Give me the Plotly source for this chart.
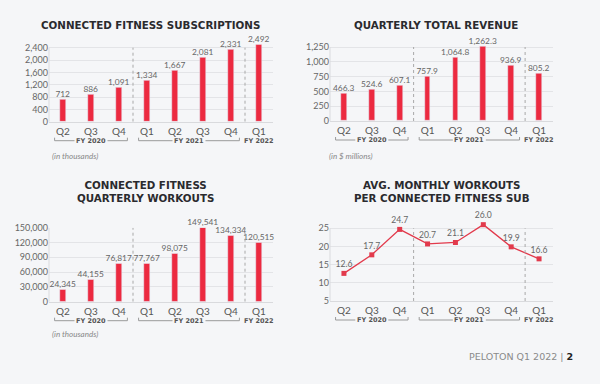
import plotly.graph_objects as go

# ---------------- data ----------------
quarters = ["Q2", "Q3", "Q4", "Q1", "Q2", "Q3", "Q4", "Q1"]
fiscal_years = ["FY 2020", "FY 2020", "FY 2020", "FY 2021", "FY 2021", "FY 2021", "FY 2021", "FY 2022"]
subscriptions = [712, 886, 1091, 1334, 1667, 2081, 2331, 2492]
revenue = [466.3, 524.6, 607.1, 757.9, 1064.8, 1262.3, 936.9, 805.2]
workouts = [24345, 44155, 76817, 77767, 98075, 149541, 134334, 120515]
avg_workouts = [12.6, 17.7, 24.7, 20.7, 21.1, 26.0, 19.9, 16.6]

sub_ticks = [0, 400, 800, 1200, 1600, 2000, 2400]
rev_ticks = [0, 250, 500, 750, 1000, 1250]
wo_ticks = [0, 30000, 60000, 90000, 120000, 150000]
avg_ticks = [5, 10, 15, 20, 25]

titles = ["CONNECTED FITNESS SUBSCRIPTIONS", "QUARTERLY TOTAL REVENUE",
          "CONNECTED FITNESS<br>QUARTERLY WORKOUTS",
          "AVG. MONTHLY WORKOUTS<br>PER CONNECTED FITNESS SUB"]
notes = ["(in thousands)", "(in $ millions)", "(in thousands)", None]
footer = "PELOTON Q1 2022 | <b><span style='color:#222'>2</span></b>"

# ---------------- style / layout ----------------
W, H = 600, 384
BG = "#f5f6f8"
RED = "#ec2a40"
LINE_RED = "#e23a4c"
GRID = "#e3e4e7"
TXT = "#666666"
TICKFONT = "Lato"
TITLEFONT = "DejaVu Sans"

# pixel boxes of the four plot areas: left, right, pixel of top tick, pixel of bottom
panels = [
    (49, 273, 47.7, 121.7),
    (330, 553, 47.0, 121.0),
    (49, 273, 227.7, 301.7),
    (330, 553, 228.3, 301.0),
]
title_pos = [(150, 24.5), (436, 24.5), (145, 191.5), (442, 191.5)]
note_pos = [(50, 156), (327, 156), (50, 334), None]
ranges = [[0, 2500], [0, 1275], [0, 150000], [5, 26.5]]


def px(x):
    return x / W


def py(y):
    return 1 - y / H


x_idx = list(range(len(quarters)))
fig = go.Figure()

series = [subscriptions, revenue, workouts, avg_workouts]
texts = [
    [f"{v:,}" for v in subscriptions],
    [f"{v:,.1f}" for v in revenue],
    [f"{v:,}" for v in workouts],
    [f"{v:.1f}" for v in avg_workouts],
]
tickvals = [sub_ticks, rev_ticks, wo_ticks, avg_ticks]

for i in range(4):
    n = i + 1
    xa = "x" if n == 1 else f"x{n}"
    ya = "y" if n == 1 else f"y{n}"
    if i < 3:
        fig.add_trace(go.Bar(
            x=x_idx, y=series[i], width=0.21, marker_color=RED,
            text=texts[i], textposition="outside", cliponaxis=False,
            constraintext="none",
            textfont=dict(family=TICKFONT, size=8.4, color=TXT),
            xaxis=xa, yaxis=ya, hoverinfo="skip"))
    else:
        fig.add_trace(go.Scatter(
            x=x_idx, y=series[i], mode="lines+markers+text",
            line=dict(color=LINE_RED, width=1.3),
            marker=dict(symbol="square", size=5, color=LINE_RED),
            text=texts[i], textposition="top center", cliponaxis=False,
            textfont=dict(family=TICKFONT, size=8.6, color=TXT),
            xaxis=xa, yaxis=ya, hoverinfo="skip"))

layout = dict(
    width=W, height=H, margin=dict(l=0, r=0, t=0, b=0),
    paper_bgcolor=BG, plot_bgcolor=BG, showlegend=False,
    bargap=0.0,
)
annotations = []
shapes = []

for i in range(4):
    n = i + 1
    l, r, t, b = panels[i]
    lo, hi = ranges[i]
    top_tick = tickvals[i][-1]
    ppv = (b - t) / (top_tick - lo)
    top_px = t - (hi - top_tick) * ppv
    xkey = "xaxis" if n == 1 else f"xaxis{n}"
    ykey = "yaxis" if n == 1 else f"yaxis{n}"
    xa = "x" if n == 1 else f"x{n}"
    ya = "y" if n == 1 else f"y{n}"
    layout[xkey] = dict(
        domain=[px(l), px(r)], anchor=ya, range=[-0.5, len(quarters) - 0.5],
        tickvals=x_idx, ticktext=quarters, showgrid=False, zeroline=False,
        showline=True, linecolor="#d9dadd", linewidth=1,
        tickfont=dict(family=TICKFONT, size=10, color="#555"), ticks="",
        automargin=False, fixedrange=True)
    layout[ykey] = dict(
        domain=[py(b), py(top_px)], anchor=xa, range=ranges[i],
        tickvals=tickvals[i], tickformat=",", showgrid=True, gridcolor=GRID,
        gridwidth=1, zeroline=False, showline=False,
        tickfont=dict(family=TICKFONT, size=9, color=TXT),
        ticks="", automargin=False, fixedrange=True)
    # left axis line up to the top tick
    shapes.append(dict(type="line", xref=f"{xa} domain", yref=ya, x0=0, x1=0,
                       y0=lo, y1=top_tick, line=dict(color="#d9dadd", width=1)))

    # title
    tx, ty = title_pos[i]
    annotations.append(dict(
        text=f"<b>{titles[i]}</b>", x=px(tx), y=py(ty), xref="paper", yref="paper",
        xanchor="center", yanchor="middle", showarrow=False,
        font=dict(family=TITLEFONT, size=10.3, color="#2a2a2e")))
    # unit note
    if note_pos[i] is not None:
        nx, ny = note_pos[i]
        annotations.append(dict(
            text=f"<i>{notes[i]}</i>", x=px(nx), y=py(ny), xref="paper", yref="paper",
            xanchor="left", yanchor="middle", showarrow=False,
            font=dict(family=TICKFONT, size=8, color="#888")))

    # fiscal-year groups
    ppu = (r - l) / len(quarters)
    fy_y = b + 19
    groups = []
    for k, fy in enumerate(fiscal_years):
        if groups and groups[-1][0] == fy:
            groups[-1][2] = k
        else:
            groups.append([fy, k, k])
    for gi, (fy, k0, k1) in enumerate(groups):
        center = (k0 + k1) / 2
        annotations.append(dict(
            text=f"<b>{fy}</b>", x=center, y=py(fy_y), xref=xa, yref="paper",
            xanchor="center", yanchor="middle", showarrow=False,
            font=dict(family=TITLEFONT, size=6.5, color="#555")))
        if k1 > k0:
            x_start = k0 - 0.3
            x_end = k1 + 0.3
            gap = 16.5 / ppu
            line = dict(color="#9a9a9a", width=1)
            shapes.append(dict(type="line", xref=xa, yref="paper", x0=x_start, x1=center - gap,
                               y0=py(fy_y), y1=py(fy_y), line=line))
            shapes.append(dict(type="line", xref=xa, yref="paper", x0=center + gap, x1=x_end,
                               y0=py(fy_y), y1=py(fy_y), line=line))
            shapes.append(dict(type="line", xref=xa, yref="paper", x0=x_start, x1=x_start,
                               y0=py(fy_y), y1=py(fy_y - 3), line=line))
            shapes.append(dict(type="line", xref=xa, yref="paper", x0=x_end, x1=x_end,
                               y0=py(fy_y), y1=py(fy_y - 3), line=line))
        # separator between fiscal years
        if gi > 0:
            shapes.append(dict(type="line", xref=xa, yref=ya,
                               x0=k0 - 0.5, x1=k0 - 0.5, y0=lo, y1=top_tick,
                               line=dict(color="#a8a8a8", width=1, dash="dot")))

annotations.append(dict(
    text=footer, x=px(575), y=py(356), xref="paper", yref="paper",
    xanchor="right", yanchor="middle", showarrow=False,
    font=dict(family=TITLEFONT, size=9.5, color="#8a8a8a")))

layout["annotations"] = annotations
layout["shapes"] = shapes
fig.update_layout(**layout)

fig.write_html("out.html", config={"displayModeBar": False},
               post_script="document.body.style.margin='0';document.body.style.background='%s';" % BG)
